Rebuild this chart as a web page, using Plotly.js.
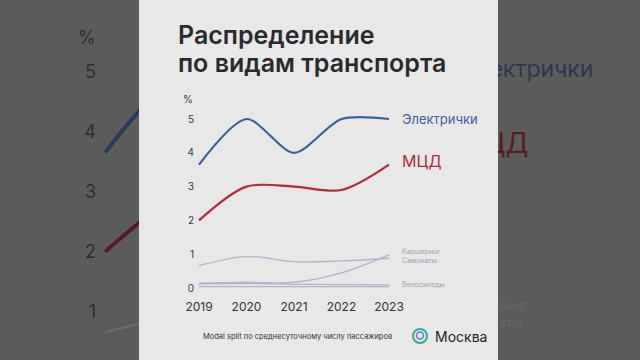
<!DOCTYPE html>
<html>
<head>
<meta charset="utf-8">
<script src="https://cdn.plot.ly/plotly-3.0.1.min.js"></script>
<style>html,body{margin:0;padding:0;background:#5b5b5b;}#chart{width:640px;height:360px;}</style>
</head>
<body>
<div id="chart"></div>
<script>
// ---- data ----
const years = [2019, 2020, 2021, 2022, 2023];
const yTicks = [0, 1, 2, 3, 4, 5];
const elektrichki = [3.65, 5.0, 4.0, 5.0, 5.0];
const mcd = [2.0, 3.0, 3.0, 2.9, 3.65];
const karshering = [0.14, 0.17, 0.17, 0.45, 0.98];
const samokaty = [0.66, 0.93, 0.78, 0.80, 0.88];
const velosipedy = [0.12, 0.13, 0.11, 0.10, 0.09];
const prochee = [0.04, 0.04, 0.04, 0.04, 0.04];
const seriesNames = ['Электрички', 'МЦД', 'Каршеринг', 'Самокаты', 'Велосипеды', ''];

// ---- geometry helpers (pixel layout) ----
const W = 640, H = 360;
const px = x => x / W, py = y => 1 - y / H;
const X0PX = 199, XSTEP = 47.5;
const Y0PX = 288, YSTEP = 33.8;
const plotL = 195, plotR = 398, plotT = 110, plotB = 296;
const xr = [2019 - (X0PX - plotL) / XSTEP, 2023 + (plotR - (X0PX + 4 * XSTEP)) / XSTEP];
const yr = [-(plotB - Y0PX) / YSTEP, (Y0PX - plotT) / YSTEP];
const S = 1.78;
const BX0 = -249 + S * X0PX, BXSTEP = XSTEP * S;
const BY0 = -140.6 + S * Y0PX, BYSTEP = YSTEP * S;
const bx = p => 2019 + (p - BX0) / BXSTEP;
const byr = [(BY0 - H) / BYSTEP, BY0 / BYSTEP];

const FONT = 'Inter, "Noto Sans", sans-serif';
const blue = '#3e5e9e', red = '#b32a3b', lav = '#b9b1c9';

const mainSeries = [
  {y: elektrichki, c: blue, w: 2.2, sm: 0.8},
  {y: mcd, c: red, w: 2.2, sm: 0.9},
  {y: karshering, c: lav, w: 1.3, sm: 1},
  {y: samokaty, c: lav, w: 1.3, sm: 1},
  {y: velosipedy, c: lav, w: 1.3, sm: 1},
  {y: prochee, c: lav, w: 1.3, sm: 1}
];
const darkCol = ['#2b3a58', '#561b24', '#6c6972', '#6c6972', '#6c6972', '#6c6972'];

const traces = [];
mainSeries.forEach((s, i) => {
  traces.push({x: years, y: s.y, xaxis: 'x2', yaxis: 'y2', mode: 'lines', name: seriesNames[i],
    line: {color: darkCol[i], width: s.w * S, shape: 'spline', smoothing: s.sm}, hoverinfo: 'skip', showlegend: false});
});
const bgLabels = [
  {t: 'Электрички', v: 5.0, s: 23, c: '#2b3650'},
  {t: 'МЦД', v: 3.76, s: 28, c: '#551c23'},
  {t: 'Каршеринг', v: 1.09, s: 12.5, c: '#69666e'},
  {t: 'Самокаты', v: 0.80, s: 12.5, c: '#69666e'}
];
bgLabels.forEach(l => {
  traces.push({x: [2023 + 16 / BXSTEP], y: [l.v], xaxis: 'x3', yaxis: 'y3', mode: 'text', text: [l.t],
    textposition: 'middle right', textfont: {family: FONT, size: l.s, color: l.c}, hoverinfo: 'skip', showlegend: false});
});
mainSeries.forEach((s, i) => {
  traces.push({x: years, y: s.y, xaxis: 'x', yaxis: 'y', mode: 'lines', name: seriesNames[i],
    line: {color: s.c, width: s.w, shape: 'spline', smoothing: s.sm}, hoverinfo: 'skip', showlegend: false});
});

const annotations = [
  {text: 'Распределение', x: px(176), y: py(35), xanchor: 'left', yanchor: 'middle',
   font: {family: FONT, size: 25, color: '#2a2a2e', weight: 600}},
  {text: 'по видам транспорта', x: px(176), y: py(63), xanchor: 'left', yanchor: 'middle',
   font: {family: FONT, size: 25, color: '#2a2a2e', weight: 600}},
  {text: '%', x: px(188), y: py(99), xanchor: 'center', yanchor: 'middle',
   font: {family: FONT, size: 10, color: '#3a3a3a'}},
  {text: '%', x: px(87), y: py(38), xanchor: 'center', yanchor: 'middle',
   font: {family: FONT, size: 18, color: '#2e2e2e'}},
  {text: 'Modal split по среднесуточному числу пассажиров', x: px(297), y: py(336), xanchor: 'center', yanchor: 'middle',
   font: {family: FONT, size: 7.5, color: '#333'}},
  {text: 'Москва', x: px(433), y: py(336), xanchor: 'left', yanchor: 'middle',
   font: {family: FONT, size: 14, color: '#222'}}
].map(a => Object.assign({xref: 'paper', yref: 'paper', showarrow: false}, a));

const seriesLabels = [
  {t: 'Электрички', v: 5.0, s: 13, c: blue},
  {t: 'МЦД', v: 3.76, s: 16, c: red},
  {t: 'Каршеринг', v: 1.09, s: 7, c: '#a59fb6'},
  {t: 'Самокаты', v: 0.80, s: 7, c: '#a59fb6'},
  {t: 'Велосипеды', v: 0.09, s: 7, c: '#a59fb6'}
];
seriesLabels.forEach(l => annotations.push({xref: 'x', yref: 'y', x: years[years.length - 1], y: l.v,
  xshift: 11, xanchor: 'left', yanchor: 'middle', showarrow: false, text: l.t,
  font: {family: FONT, size: l.s, color: l.c}}));

const shapes = [
  {type: 'rect', xref: 'paper', yref: 'paper', x0: px(139), x1: px(498), y0: 0, y1: 1,
   fillcolor: '#e8e8e8', line: {width: 0}, layer: 'below'},
  {type: 'circle', xref: 'paper', yref: 'paper', x0: px(413), x1: px(427), y0: py(343), y1: py(329),
   line: {color: '#35a9a2', width: 2}},
  {type: 'circle', xref: 'paper', yref: 'paper', x0: px(416.5), x1: px(423.5), y0: py(339), y1: py(332),
   line: {color: '#5b86c6', width: 1.5}}
];

const layout = {
  width: W, height: H,
  margin: {l: 0, r: 0, t: 0, b: 0},
  paper_bgcolor: '#5b5b5b', plot_bgcolor: 'rgba(0,0,0,0)',
  font: {family: FONT},
  showlegend: false,
  xaxis: {domain: [px(plotL), px(plotR)], range: xr, tickvals: years, ticktext: years.map(String),
    showgrid: false, zeroline: false, showline: false, ticks: '', ticklabelstandoff: 2,
    tickfont: {family: FONT, size: 12, color: '#333'}, anchor: 'y', fixedrange: true},
  yaxis: {domain: [1 - plotB / H, 1 - plotT / H], range: yr, tickvals: yTicks,
    showgrid: false, zeroline: false, showline: false, ticks: '',
    tickfont: {family: FONT, size: 10, color: '#3a3a3a'}, anchor: 'x', fixedrange: true},
  xaxis2: {domain: [0, px(139)], range: [bx(0), bx(139)], visible: false, anchor: 'y2'},
  yaxis2: {domain: [0, 1], range: byr, tickvals: yTicks.slice(1), anchor: 'free', position: px(96),
    showgrid: false, zeroline: false, showline: false, ticks: '',
    tickfont: {family: FONT, size: 18, color: '#2e2e2e'}},
  xaxis3: {domain: [px(498), 1], range: [bx(498), bx(640)], visible: false, anchor: 'y3'},
  yaxis3: {domain: [0, 1], range: byr, visible: false, anchor: 'x3'},
  annotations: annotations,
  shapes: shapes
};

Plotly.newPlot('chart', traces, layout, {staticPlot: true, displayModeBar: false});
</script>
</body>
</html>
